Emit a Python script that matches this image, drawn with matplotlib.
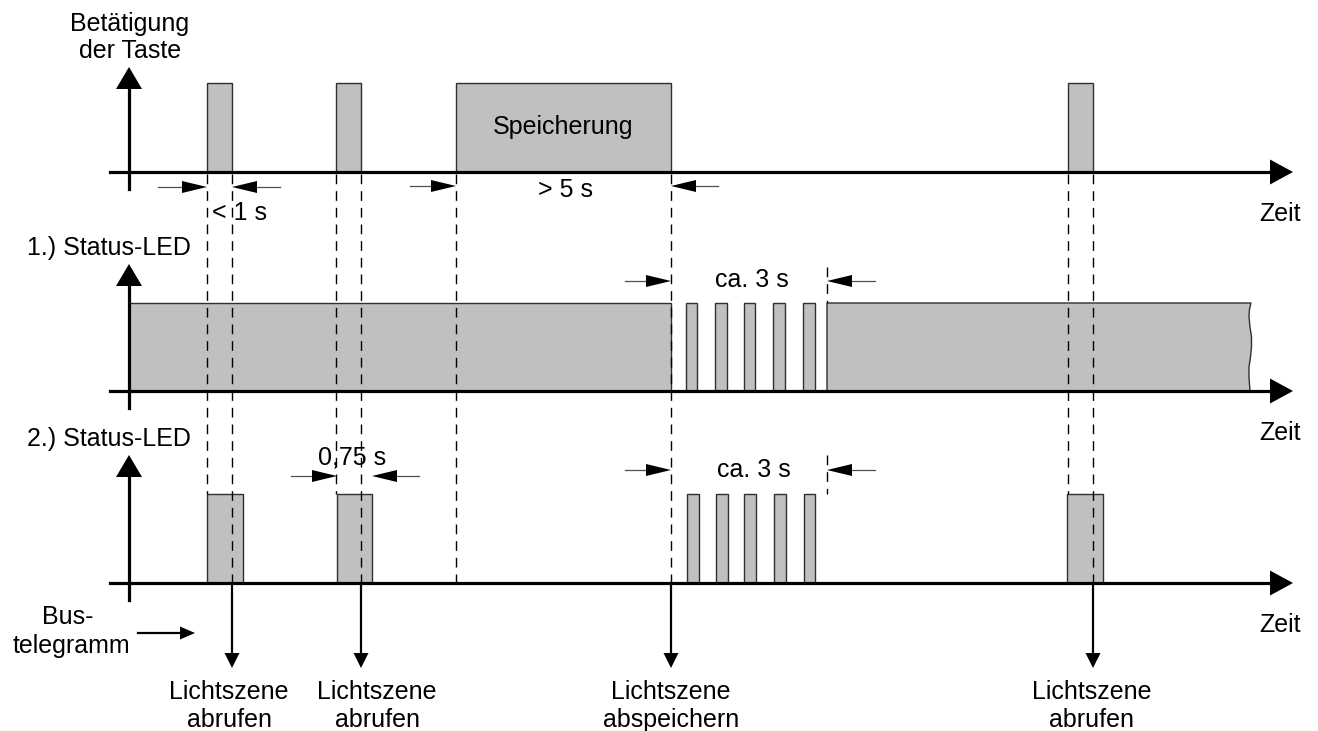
import matplotlib
matplotlib.use("Agg")
import matplotlib.pyplot as plt
from matplotlib.patches import Polygon, Rectangle

plt.rcParams['font.family'] = ['Liberation Sans', 'DejaVu Sans']

# time positions are given in drawing units (pixels of the original sheet)
taste_pulses = [(207, 232), (336, 361), (456, 671), (1068, 1093)]
led1_blocks = [(129, 671), (686, 697), (715, 727), (744, 755), (773, 785),
               (803, 815)]
led1_tail = (827, 1251)
led2_pulses = [(207, 243), (337, 372), (687, 699), (716, 728), (744, 756),
               (774, 786), (804, 815), (1067, 1103)]
bus_times = [232, 361, 671, 1093]
bus_label_x = [229, 377, 671, 1092]
bus_labels = [("Lichtszene", "abrufen"), ("Lichtszene", "abrufen"),
              ("Lichtszene", "abspeichern"), ("Lichtszene", "abrufen")]

# rows: baseline, pulse top, axis arrow tip
rows = [(172, 83, 67), (391, 303, 264), (583, 494, 455)]
row_labels = [None, "1.) Status-LED", "2.) Status-LED"]

GRAY = "#c0c0c0"
EDGE = "#303030"
FS = 18

fig = plt.figure(figsize=(13.18, 7.31), dpi=100)
ax = fig.add_axes([0, 0, 1, 1])
ax.set_xlim(0, 1318)
ax.set_ylim(731, 0)
ax.axis("off")


def head(x, y, direction, length, half, color="black"):
    dx, dy = direction
    px, py = -dy, dx
    pts = [(x, y),
           (x - dx * length + px * half, y - dy * length + py * half),
           (x - dx * length - px * half, y - dy * length - py * half)]
    ax.add_patch(Polygon(pts, closed=True, color=color, lw=0, zorder=6))


def dim_arrow(x0, x1, y):
    d = 1 if x1 > x0 else -1
    ax.plot([x0, x1 - d * 20], [y, y], color="#505050", lw=0.9, zorder=5)
    head(x1, y, (d, 0), 25, 6)


def vdash(x, y0, y1):
    ax.plot([x, x], [y0, y1], color="black", lw=1.0, ls=(0, (7, 5)), zorder=4)


def pulse(x0, x1, base, top):
    ax.add_patch(Rectangle((x0, top), x1 - x0, base - top, facecolor=GRAY,
                           edgecolor=EDGE, lw=1.0, zorder=2))


# axes of the three rows
for base, top, tip in rows:
    ax.plot([110, 1272], [base, base], color="black", lw=2.3, zorder=3)
    head(1293, base, (1, 0), 23, 12.5)
    ax.plot([129, 129], [base + 17, tip + 20], color="black", lw=2.3, zorder=3)
    head(129, tip, (0, -1), 22, 13)
    ax.text(1280, base + 42, "Zeit", fontsize=FS, ha="center", va="center")

for (base, top, tip), lab in zip(rows, row_labels):
    if lab:
        ax.text(27, tip - 16, lab, fontsize=FS, ha="left", va="center")

ax.text(130, 24, "Betätigung", fontsize=FS, ha="center", va="center")
ax.text(130, 51, "der Taste", fontsize=FS, ha="center", va="center")

# row 1: key presses
b, t, _ = rows[0]
for x0, x1 in taste_pulses:
    pulse(x0, x1, b, t)
ax.text(563, 127, "Speicherung", fontsize=FS, ha="center", va="center",
        zorder=7)

# row 2: LED 1, the long block ends in a wavy break line
b, t, _ = rows[1]
for x0, x1 in led1_blocks:
    pulse(x0, x1, b, t)
x0, x1 = led1_tail
tail = [(x0, b), (x0, t), (x1, t), (x1 - 1.5, t + 6), (x1 - 2, t + 14),
        (x1 - 1, t + 24), (x1 + 0.5, t + 34), (x1 + 0.5, t + 44),
        (x1 - 0.5, t + 54), (x1 - 2, t + 64), (x1 - 2, t + 74),
        (x1 - 1, b)]
ax.add_patch(Polygon(tail, closed=True, facecolor=GRAY, edgecolor=EDGE,
                     lw=1.0, zorder=2))

# row 3: LED 2
b, t, _ = rows[2]
for x0, x1 in led2_pulses:
    pulse(x0, x1, b, t)

# dashed helper lines
top_base = rows[0][0]
for x0, x1 in [taste_pulses[0], taste_pulses[1], taste_pulses[3]]:
    vdash(x0, top_base + 2, rows[2][1])
    vdash(x1, top_base + 2, rows[2][0])
vdash(taste_pulses[2][0], top_base + 2, rows[2][0])
vdash(taste_pulses[2][1], top_base + 2, rows[2][0])
vdash(led1_tail[0], rows[1][2] + 3, rows[1][1])
vdash(led1_tail[0], rows[2][2], rows[2][1])

# dimension arrows
dim_arrow(158, 207, 187)
dim_arrow(280, 232, 187)
ax.text(212, 213, "< 1 s", fontsize=FS, ha="left", va="center")
dim_arrow(410, 456, 186)
dim_arrow(718, 671, 186)
ax.text(565, 190, "> 5 s", fontsize=FS, ha="center", va="center")
dim_arrow(625, 671, 281)
dim_arrow(875, 827, 281)
ax.text(752, 280, "ca. 3 s", fontsize=FS, ha="center", va="center")
dim_arrow(291, 337, 476)
dim_arrow(419, 372, 476)
ax.text(352, 457, "0,75 s", fontsize=FS, ha="center", va="center")
dim_arrow(625, 671, 470)
dim_arrow(875, 827, 470)
ax.text(754, 470, "ca. 3 s", fontsize=FS, ha="center", va="center")

# bus telegrams
b = rows[2][0]
for x, lx, (l1, l2) in zip(bus_times, bus_label_x, bus_labels):
    ax.plot([x, x], [b, 655], color="black", lw=1.6, zorder=3)
    head(x, 668, (0, 1), 15, 7.5)
    ax.text(lx, 692, l1, fontsize=FS, ha="center", va="center")
    ax.text(lx, 720, l2, fontsize=FS, ha="center", va="center")

ax.text(68, 617, "Bus-", fontsize=FS, ha="center", va="center")
ax.text(71, 646, "telegramm", fontsize=FS, ha="center", va="center")
ax.plot([138, 182], [633, 633], color="black", lw=1.6)
head(195, 633, (1, 0), 15, 6.5)

fig.savefig("out.png", dpi=100, facecolor="white")
